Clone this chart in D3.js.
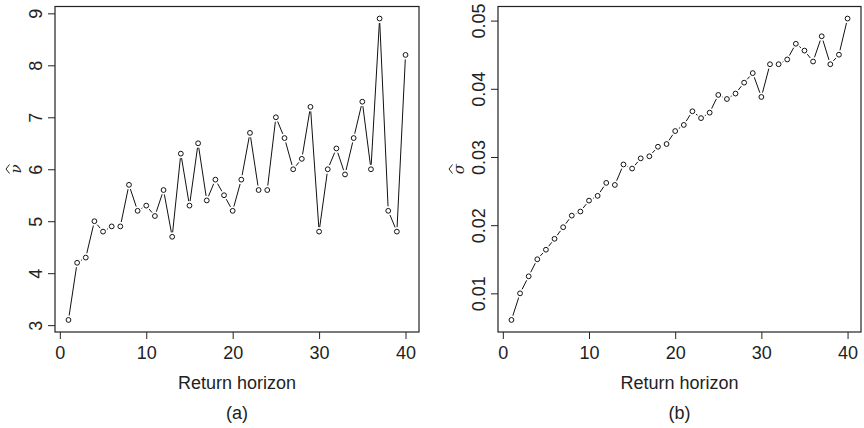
<!DOCTYPE html>
<html>
<head>
<meta charset="utf-8">
<script src="https://cdn.jsdelivr.net/npm/d3@7"></script>
<style>
  body { margin: 0; background: #fff; }
  svg text { font-family: "Liberation Sans", Arial, sans-serif; fill: #222; }
</style>
</head>
<body>
<div id="viz"></div>
<script>
const width = 864;
const height = 428;

// Return horizons (x values)
const horizons = [1, 2, 3, 4, 5, 6, 7, 8, 9, 10, 11, 12, 13, 14, 15, 16, 17, 18, 19, 20,
  21, 22, 23, 24, 25, 26, 27, 28, 29, 30, 31, 32, 33, 34, 35, 36, 37, 38, 39, 40];

// Panel (a): nu hat
const nuHat = [3.1, 4.2, 4.3, 5.0, 4.8, 4.9, 4.9, 5.7, 5.2, 5.3, 5.1, 5.6, 4.7, 6.3, 5.3, 6.5, 5.4, 5.8, 5.5, 5.2,
  5.8, 6.7, 5.6, 5.6, 7.0, 6.6, 6.0, 6.2, 7.2, 4.8, 6.0, 6.4, 5.9, 6.6, 7.3, 6.0, 8.9, 5.2, 4.8, 8.2];

// Panel (b): sigma hat
const sigmaHat = [0.0061, 0.0100, 0.0125, 0.0150, 0.0164, 0.0180, 0.0197, 0.0214, 0.0220, 0.0236,
  0.0243, 0.0262, 0.0259, 0.0289, 0.0283, 0.0298, 0.0301, 0.0315, 0.0319, 0.0338,
  0.0347, 0.0367, 0.0357, 0.0365, 0.0391, 0.0385, 0.0393, 0.0409, 0.0423, 0.0388,
  0.0436, 0.0436, 0.0443, 0.0466, 0.0456, 0.0440, 0.0477, 0.0436, 0.0450, 0.0503];

const xTicks = [0, 10, 20, 30, 40];
const nuTicks = [3, 4, 5, 6, 7, 8, 9];
const sigmaTicks = [0.01, 0.02, 0.03, 0.04, 0.05];

const panels = [
  { values: nuHat, ticks: nuTicks, fmt: d3.format('d'), ylab: 'ν', tag: '(a)', left: 55, right: 419 },
  { values: sigmaHat, ticks: sigmaTicks, fmt: d3.format('.2f'), ylab: 'σ', tag: '(b)', left: 498, right: 861 }
];

const plotTop = 6.5;
const plotBottom = 332;

const svg = d3.select('#viz')
  .append('svg')
    .attr('viewBox', [0, 0, width, height])
    .attr('width', width)
    .attr('height', height);

// R-style 4% padding on the data range
const pad = ext => {
  const r = ext[1] - ext[0];
  return [ext[0] - 0.04 * r, ext[1] + 0.04 * r];
};

panels.forEach(p => {
  const data = horizons.map((h, i) => ({ x: h, y: p.values[i] }));

  const scaleX = d3.scaleLinear()
    .domain(pad(d3.extent(horizons)))
    .range([p.left, p.right]);

  const scaleY = d3.scaleLinear()
    .domain(pad(d3.extent(p.values)))
    .range([plotBottom, plotTop]);

  const g = svg.append('g');

  // lines between points, with a gap around each point (type = "b")
  const gap = 4.5;
  const segs = [];
  for (let i = 0; i < data.length - 1; i++) {
    const x1 = scaleX(data[i].x), y1 = scaleY(data[i].y);
    const x2 = scaleX(data[i + 1].x), y2 = scaleY(data[i + 1].y);
    const len = Math.hypot(x2 - x1, y2 - y1);
    if (len <= 2 * gap) continue;
    const ux = (x2 - x1) / len, uy = (y2 - y1) / len;
    segs.push([x1 + ux * gap, y1 + uy * gap, x2 - ux * gap, y2 - uy * gap]);
  }
  g.append('g')
    .selectAll('line')
    .data(segs)
    .join('line')
      .attr('x1', d => d[0])
      .attr('y1', d => d[1])
      .attr('x2', d => d[2])
      .attr('y2', d => d[3])
      .attr('stroke', '#111')
      .attr('stroke-width', 1);

  // points
  g.append('g')
    .selectAll('circle')
    .data(data)
    .join('circle')
      .attr('cx', d => scaleX(d.x))
      .attr('cy', d => scaleY(d.y))
      .attr('r', 2.4)
      .attr('fill', 'none')
      .attr('stroke', '#111')
      .attr('stroke-width', 1);

  // box
  g.append('rect')
    .attr('x', p.left)
    .attr('y', plotTop)
    .attr('width', p.right - p.left)
    .attr('height', plotBottom - plotTop)
    .attr('fill', 'none')
    .attr('stroke', '#222')
    .attr('stroke-width', 1.2);

  // x axis
  const xAxis = g.append('g')
    .attr('transform', `translate(0,${plotBottom})`)
    .call(d3.axisBottom(scaleX).tickValues(xTicks).tickSize(7).tickPadding(7).tickSizeOuter(0));
  xAxis.select('.domain').remove();
  xAxis.selectAll('line').attr('stroke', '#222');
  xAxis.selectAll('text').style('font-size', '18px').attr('fill', '#222');

  // y axis with rotated labels
  const yAxis = g.append('g')
    .attr('transform', `translate(${p.left},0)`)
    .call(d3.axisLeft(scaleY).tickValues(p.ticks).tickFormat(p.fmt).tickSize(7).tickSizeOuter(0));
  yAxis.select('.domain').remove();
  yAxis.selectAll('line').attr('stroke', '#222');
  yAxis.selectAll('text')
    .attr('x', 0)
    .attr('y', -13.5)
    .attr('dy', 0)
    .attr('transform', 'rotate(-90)')
    .attr('text-anchor', 'middle')
    .style('font-size', '18px')
    .attr('fill', '#222');

  // axis titles
  const cx = (p.left + p.right) / 2;
  svg.append('text')
    .attr('x', cx)
    .attr('y', 389)
    .attr('text-anchor', 'middle')
    .style('font-size', '18px')
    .text('Return horizon');

  svg.append('text')
    .attr('x', cx)
    .attr('y', 419)
    .attr('text-anchor', 'middle')
    .style('font-size', '18px')
    .text(p.tag);

  // y label: italic greek letter with a hat, rotated
  const ylab = svg.append('g')
    .attr('transform', `translate(${p.left - 34},169) rotate(-90)`);
  ylab.append('text')
    .attr('text-anchor', 'middle')
    .style('font-family', '"DejaVu Serif", "Liberation Serif", serif')
    .style('font-style', 'italic')
    .style('font-size', '15px')
    .text(p.ylab);
  ylab.append('path')
    .attr('d', 'M-4.5,-11.5L0,-15L4.5,-11.5')
    .attr('fill', 'none')
    .attr('stroke', '#222')
    .attr('stroke-width', 1);
});
</script>
</body>
</html>
